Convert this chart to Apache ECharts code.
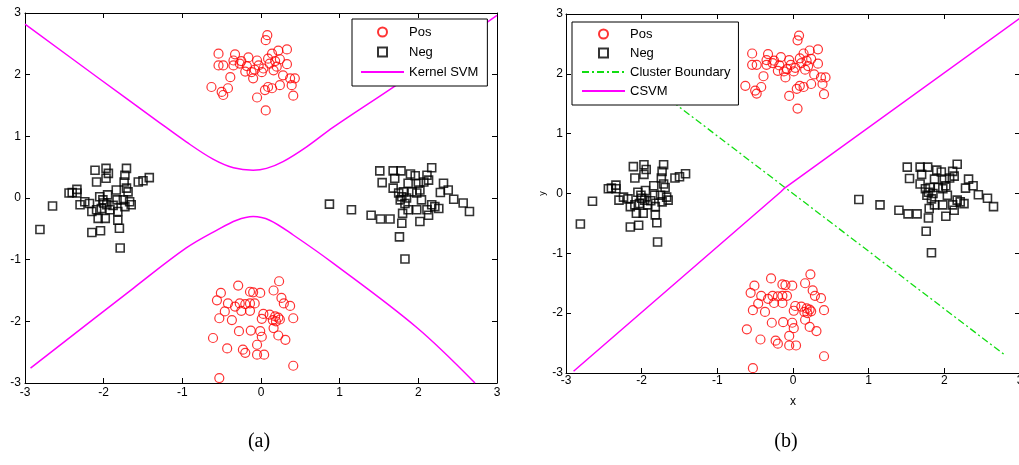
<!DOCTYPE html>
<html><head><meta charset="utf-8">
<script src="https://cdn.jsdelivr.net/npm/echarts@6/dist/echarts.min.js"></script>
<style>html,body{margin:0;padding:0;background:#fff}#c{width:1019px;height:465px}</style>
</head><body><div id="c"></div>
<script>
// ---- data ----
const axisTicks = [-3, -2, -1, 0, 1, 2, 3];
const panelLabels = ['(a)', '(b)'];

const posTop = [[0.08,2.64],[0.06,2.56],[-0.54,2.34],[-0.33,2.33],[-0.35,2.23],[-0.16,2.28],[-0.05,2.23],[0.14,2.34],[0.22,2.39],[0.33,2.41],[0.24,2.25],[-0.54,2.15],[-0.48,2.15],[-0.35,2.15],[-0.27,2.18],[-0.18,2.14],[-0.03,2.15],[0.03,2.1],[0.11,2.18],[0.2,2.13],[0.33,2.17],[-0.12,2.04],[0.01,2.04],[0.16,2.07],[0.28,1.99],[0.37,1.94],[0.43,1.94],[-0.1,1.94],[-0.39,1.96],[-0.63,1.8],[-0.5,1.72],[-0.48,1.67],[-0.42,1.78],[-0.05,1.63],[0.06,1.42],[0.05,1.75],[0.09,1.8],[0.14,1.78],[0.24,1.83],[0.41,1.66],[0.39,1.83],[-0.25,2.22],[0.09,2.26],[-0.08,2.08],[0.18,2.22],[-0.2,2.05]];
const posBottom = [[0.23,-1.35],[-0.29,-1.42],[0.16,-1.5],[-0.14,-1.52],[-0.1,-1.53],[-0.01,-1.54],[-0.51,-1.54],[-0.56,-1.66],[0.26,-1.62],[0.29,-1.71],[0.37,-1.75],[-0.42,-1.71],[-0.27,-1.71],[-0.2,-1.72],[-0.14,-1.71],[-0.08,-1.71],[-0.33,-1.76],[-0.46,-1.84],[-0.25,-1.83],[-0.14,-1.83],[0.03,-1.88],[0.11,-1.89],[0.18,-1.92],[0.22,-1.94],[0.24,-1.97],[0.41,-1.95],[-0.53,-1.95],[-0.37,-1.98],[0.01,-1.96],[0.15,-1.98],[0.19,-2.0],[-0.01,-2.16],[0.01,-2.25],[-0.28,-2.16],[-0.13,-2.15],[0.16,-2.11],[0.22,-2.23],[0.31,-2.3],[-0.61,-2.27],[-0.05,-2.38],[-0.43,-2.44],[-0.23,-2.46],[-0.2,-2.51],[-0.05,-2.54],[0.04,-2.54],[0.41,-2.72],[-0.53,-2.92]];
const negLeft = [[-2.81,-0.51],[-2.65,-0.13],[-2.44,0.08],[-2.4,0.09],[-2.34,0.14],[-2.34,0.08],[-2.3,-0.11],[-2.24,-0.06],[-2.18,-0.09],[-2.15,-0.22],[-2.09,-0.19],[-2.15,-0.56],[-2.04,-0.53],[-2.11,0.45],[-2.09,0.26],[-1.97,0.48],[-1.94,0.4],[-1.97,0.32],[-2.05,0.02],[-2.01,-0.03],[-1.96,-0.11],[-2.03,-0.17],[-1.98,-0.33],[-2.07,-0.33],[-1.92,-0.19],[-1.84,0.13],[-1.83,-0.03],[-1.82,-0.22],[-1.82,-0.36],[-1.8,-0.49],[-1.79,-0.81],[-1.71,0.48],[-1.73,0.37],[-1.74,0.26],[-1.71,0.16],[-1.69,0.1],[-1.75,-0.03],[-1.67,-0.06],[-1.65,-0.11],[-1.73,-0.14],[-1.56,0.26],[-1.5,0.28],[-1.42,0.33],[-2.0,-0.08],[-1.95,0.05],[-1.88,-0.12]];
const negRight = [[0.87,-0.1],[1.15,-0.19],[1.4,-0.28],[1.52,-0.34],[1.64,-0.34],[1.51,0.44],[1.54,0.25],[1.68,0.44],[1.78,0.44],[1.7,0.32],[1.68,0.16],[1.75,0.08],[1.79,0.02],[1.81,0.1],[1.85,0.0],[1.83,-0.09],[1.77,-0.03],[1.9,0.39],[1.96,0.36],[1.87,0.24],[2.0,0.24],[1.87,-0.19],[1.8,-0.25],[1.79,-0.41],[1.76,-0.63],[1.83,-0.99],[1.98,-0.19],[2.04,-0.03],[2.02,-0.38],[2.11,-0.19],[2.17,0.49],[2.11,0.37],[2.07,0.26],[2.13,0.29],[2.17,-0.11],[2.21,-0.14],[2.26,-0.17],[2.13,-0.28],[2.32,0.24],[2.28,0.09],[2.38,0.13],[2.45,-0.02],[2.57,-0.08],[2.65,-0.22],[1.92,0.1],[1.98,0.08],[2.02,0.13]];

const kernelUpper = [[-3.0,2.82],[-2.05,1.93],[-1.33,1.26],[-0.95,0.91],[-0.61,0.63],[-0.35,0.49],[-0.1,0.45],[0.07,0.48],[0.28,0.59],[0.58,0.83],[0.92,1.15],[1.73,1.84],[3.0,2.96]];
const kernelLower = [[-2.93,-2.76],[-1.62,-1.46],[-0.95,-0.81],[-0.56,-0.52],[-0.31,-0.36],[-0.1,-0.3],[0.11,-0.36],[0.41,-0.6],[0.92,-1.06],[1.98,-2.1],[2.72,-3.0]];
const csvmLine = [[-2.9,-2.97],[-0.16,0.03],[-0.12,0.08],[3.0,2.93]];
const clusterBoundary = [[-1.6,1.54],[2.79,-2.69]];

// ---- chart ----
const FONT = 'Liberation Sans';
const posPoints = posTop.concat(posBottom);
const negPoints = negLeft.concat(negRight);

function axis(gridIndex, position, showLabel, margin) {
  const isX = position === 'bottom' || position === 'top';
  const label = { show: showLabel, margin: margin, color: '#000', fontSize: 12, fontFamily: FONT,
                  showMinLabel: true, showMaxLabel: true };
  if (isX) { label.alignMinLabel = 'center'; label.alignMaxLabel = 'center'; }
  return {
    type: 'value', gridIndex, position,
    min: axisTicks[0], max: axisTicks[axisTicks.length - 1], interval: 1,
    axisLine: { show: true, onZero: false, lineStyle: { color: '#000', width: 1 } },
    axisTick: { show: true, inside: true, length: 5, lineStyle: { color: '#000' } },
    splitLine: { show: false },
    axisLabel: label
  };
}

const posStyle = { color: 'rgba(0,0,0,0)', borderColor: '#ff0000', borderWidth: 1.2 };
const negStyle = { color: 'rgba(0,0,0,0)', borderColor: '#000000', borderWidth: 1.6 };
const magenta = { color: '#ff00ff', width: 1.5 };

const xA = axis(0, 'bottom', true, 4);
const xB = axis(1, 'bottom', true, 2);
xB.name = 'x'; xB.nameLocation = 'middle'; xB.nameGap = 23;
xB.nameTextStyle = { color: '#000', fontSize: 12, fontFamily: FONT };
const yB = axis(1, 'left', true, 3);
yB.name = 'y'; yB.nameLocation = 'middle'; yB.nameGap = 19; yB.nameRotate = 90;
yB.nameTextStyle = { color: '#000', fontSize: 9, fontFamily: FONT };

// legend icons: square centred in a 43x9 box; line entries hide the marker dot
const squareIcon = 'path://M0,0M43,9M17,0L26,0L26,9L17,9Z';
const lineItem = name => ({ name: name, itemStyle: { opacity: 0 } });

const legendBase = {
  orient: 'vertical', align: 'left', itemWidth: 43, itemHeight: 9, symbolKeepAspect: true,
  borderColor: '#000', borderWidth: 1, backgroundColor: '#fff', selectedMode: false,
  textStyle: { fontSize: 13, lineHeight: 14, fontFamily: FONT, color: '#000' }
};

const option = {
  animation: false,
  backgroundColor: '#fff',
  grid: [
    { left: 25, top: 13, width: 472, height: 370, outerBoundsMode: 'none', containLabel: false },
    { left: 566, top: 14, width: 454, height: 359, outerBoundsMode: 'none', containLabel: false }
  ],
  xAxis: [xA, axis(0, 'top', false, 0), xB, axis(1, 'top', false, 0)],
  yAxis: [axis(0, 'left', true, 4), axis(0, 'right', false, 0), yB, axis(1, 'right', false, 0)],
  legend: [
    Object.assign({}, legendBase, { left: 352, top: 19, itemGap: 6, padding: [6, 9, 7, 8],
      data: ['Pos', { name: 'Neg', icon: squareIcon }, lineItem('Kernel SVM')] }),
    Object.assign({}, legendBase, { left: 572, top: 22, itemGap: 5, padding: [5, 8, 7, 9],
      data: ['Pos', { name: 'Neg', icon: squareIcon }, lineItem('Cluster Boundary'), lineItem('CSVM')] })
  ],
  series: [
    { name: 'Pos', type: 'scatter', xAxisIndex: 0, yAxisIndex: 0, data: posPoints,
      symbol: 'circle', symbolSize: 9, itemStyle: posStyle },
    { name: 'Neg', type: 'scatter', xAxisIndex: 0, yAxisIndex: 0, data: negPoints,
      symbol: 'rect', symbolSize: 8, itemStyle: negStyle },
    { name: 'Kernel SVM', type: 'line', xAxisIndex: 0, yAxisIndex: 0, data: kernelUpper,
      smooth: 0.35, symbol: 'none', lineStyle: magenta, itemStyle: { color: '#ff00ff' } },
    { name: 'Kernel SVM', type: 'line', xAxisIndex: 0, yAxisIndex: 0, data: kernelLower,
      smooth: 0.35, symbol: 'none', lineStyle: magenta, itemStyle: { color: '#ff00ff' } },

    { name: 'Pos', type: 'scatter', xAxisIndex: 2, yAxisIndex: 2, data: posPoints,
      symbol: 'circle', symbolSize: 9, itemStyle: posStyle },
    { name: 'Neg', type: 'scatter', xAxisIndex: 2, yAxisIndex: 2, data: negPoints,
      symbol: 'rect', symbolSize: 8, itemStyle: negStyle },
    { name: 'Cluster Boundary', type: 'line', xAxisIndex: 2, yAxisIndex: 2, data: clusterBoundary,
      symbol: 'none', lineStyle: { color: '#11dd11', width: 1.3, type: [7, 3, 2, 3] },
      itemStyle: { color: '#11dd11' } },
    { name: 'CSVM', type: 'line', xAxisIndex: 2, yAxisIndex: 2, data: csvmLine,
      symbol: 'none', lineStyle: magenta, itemStyle: { color: '#ff00ff' } }
  ],
  graphic: [
    { type: 'text', x: 259, y: 442, style: { text: panelLabels[0], font: '20px "Liberation Serif"', fill: '#000', align: 'center', verticalAlign: 'middle' } },
    { type: 'text', x: 786, y: 442, style: { text: panelLabels[1], font: '20px "Liberation Serif"', fill: '#000', align: 'center', verticalAlign: 'middle' } }
  ]
};

const chart = echarts.init(document.getElementById('c'), null, { renderer: 'canvas' });
chart.setOption(option);
</script>
</body></html>
